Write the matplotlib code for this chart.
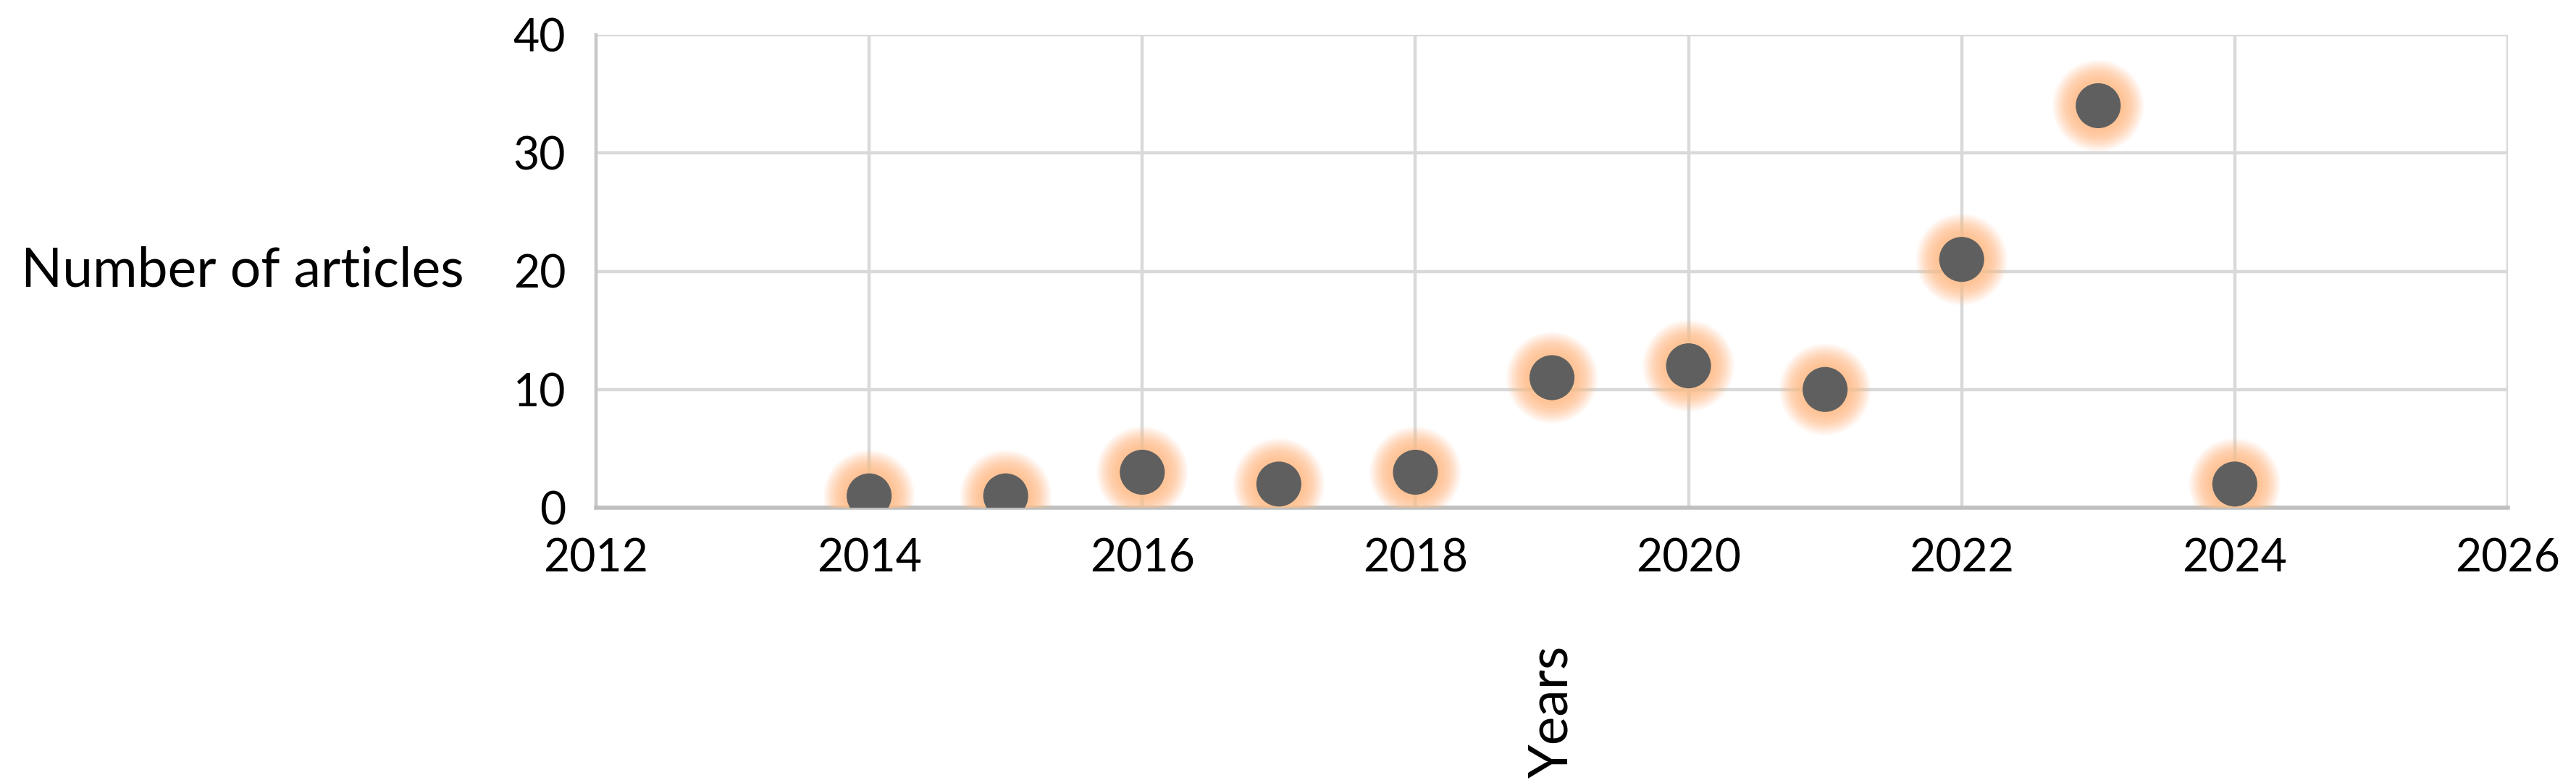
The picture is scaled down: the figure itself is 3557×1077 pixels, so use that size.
import matplotlib.pyplot as plt
import numpy as np

years = [2014, 2015, 2016, 2017, 2018, 2019, 2020, 2021, 2022, 2023, 2024]
articles = [1, 1, 3, 2, 3, 11, 12, 10, 21, 34, 2]
x_ticks = [2012, 2014, 2016, 2018, 2020, 2022, 2024, 2026]
y_ticks = [0, 10, 20, 30, 40]

plt.rcParams["font.family"] = ["Lato", "DejaVu Sans"]

fig = plt.figure(figsize=(35.57, 10.77), dpi=100)
ax = fig.add_axes([823 / 3557, 1 - 701 / 1077, (3463 - 823) / 3557, (701 - 48) / 1077])

ax.set_xlim(2012, 2026)
ax.set_ylim(0, 40)
ax.set_xticks(x_ticks)
ax.set_yticks(y_ticks)
ax.grid(True, color="#d9d9d9", linewidth=3.2)
ax.set_axisbelow(True)
for side in ["top", "right"]:
    ax.spines[side].set_visible(False)
ax.spines["left"].set_color("#c8c8c8")
ax.spines["left"].set_linewidth(3.2)
ax.spines["bottom"].set_color("#bfbfbf")
ax.spines["bottom"].set_linewidth(4.0)
ax.tick_params(length=0, labelsize=45, pad=30)

# soft orange glow behind each point
glow = "#ffc08e"
for size, a in zip(np.linspace(8500, 2200, 24), np.linspace(0.03, 0.14, 24)):
    ax.scatter(years, articles, s=size, color=glow, alpha=a, edgecolors="none", zorder=3)
ax.scatter(years, articles, s=2000, color="#5f5f5f", edgecolors="none", zorder=4)

ax.set_ylabel("Number of articles", fontsize=54, rotation=0, ha="right", va="center")
ax.yaxis.set_label_coords(-0.069, 0.5)
ax.set_xlabel("Years", fontsize=54, rotation=90, ha="center", va="top")
ax.xaxis.set_label_coords(0.5, -0.29)

fig.savefig("out.png", dpi=100)
